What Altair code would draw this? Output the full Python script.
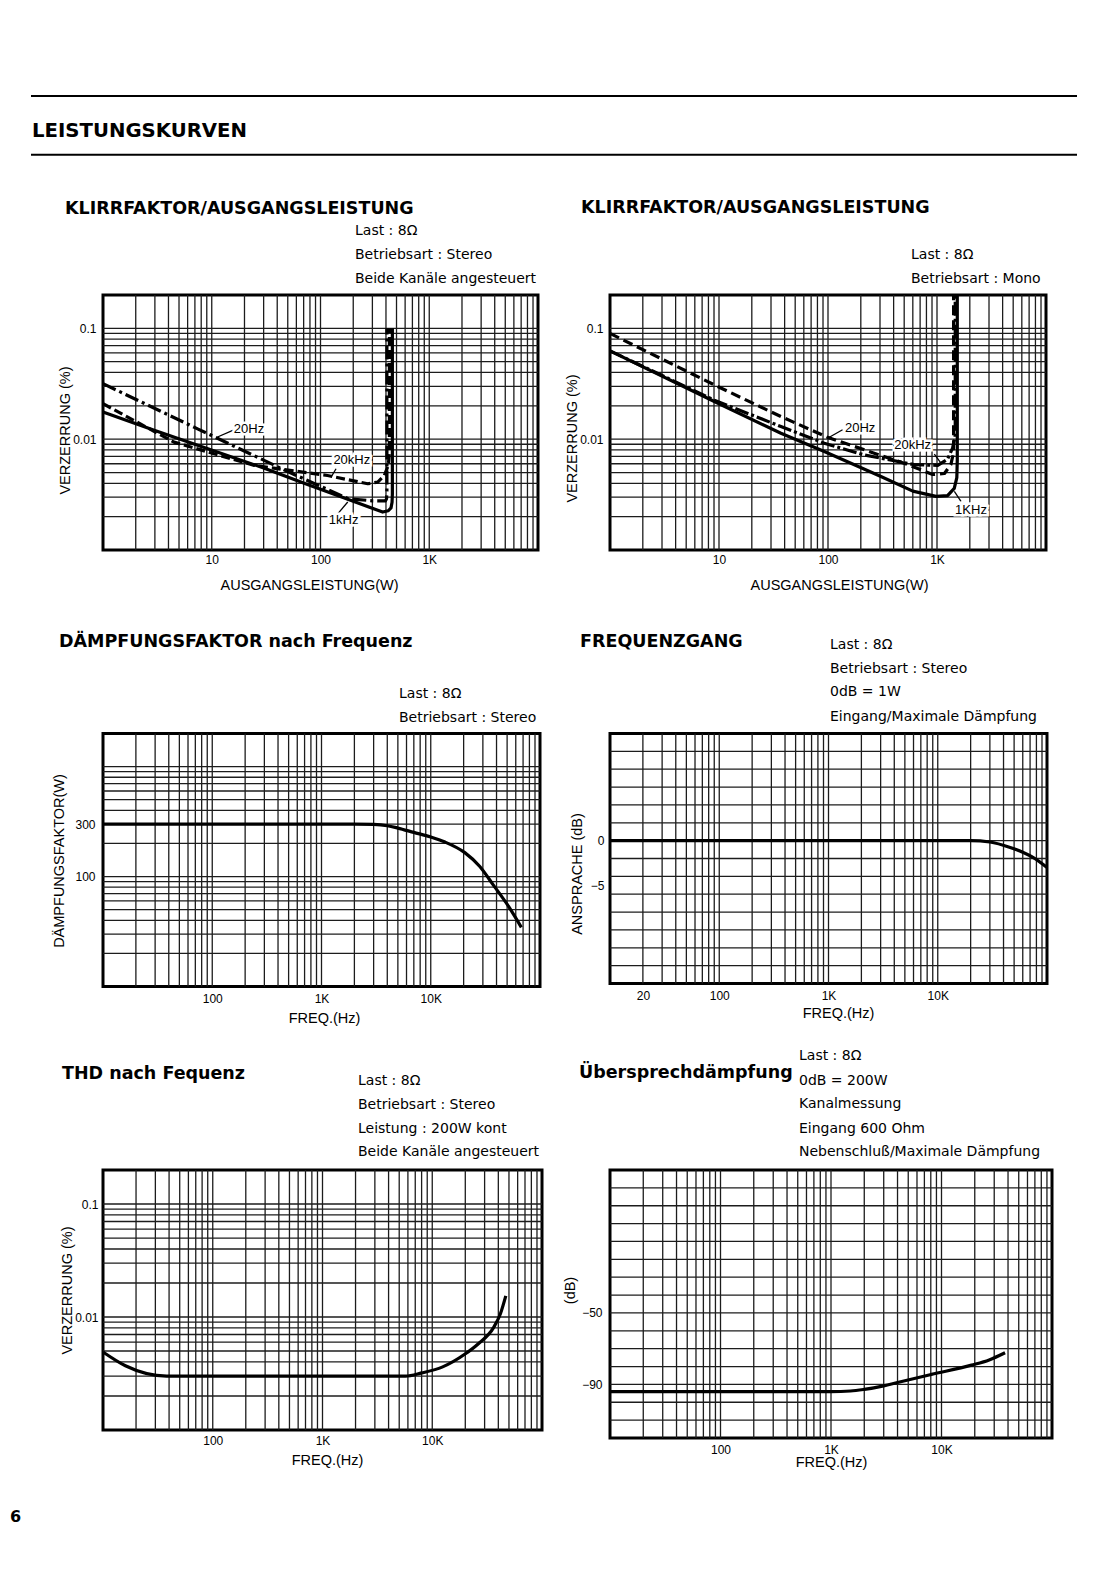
import altair as alt
import pandas as pd

# ---------------- data ----------------
# Panel 1: KLIRRFAKTOR/AUSGANGSLEISTUNG (Stereo) -- x: output power (W), y: distortion (%)
P1_1K_W = [1, 3, 9.2, 30, 76, 200, 373, 420, 445, 455, 458, 458]
P1_1K_D = [0.0176, 0.0120, 0.0082, 0.0055, 0.0039, 0.00275, 0.0022, 0.00226, 0.0024, 0.0027, 0.0032, 0.1]
P1_20_W = [1, 7.4, 50, 180, 300, 395, 405, 408, 408]
P1_20_D = [0.0317, 0.0124, 0.0051, 0.0029, 0.00278, 0.00277, 0.0029, 0.0034, 0.1]
P1_20K_W = [1, 4.5, 24.6, 116, 272, 336, 386, 420, 430, 430]
P1_20K_D = [0.0209, 0.0094, 0.0058, 0.0047, 0.00396, 0.0041, 0.0047, 0.0058, 0.0075, 0.1]
P1_LBL = ["20Hz", "20kHz", "1kHz"]
P1_LBL_W = [22, 194, 163]
P1_LBL_D = [0.0124, 0.00655, 0.00185]
P1_LEAD_W1 = [15.6, 139, 144]
P1_LEAD_D1 = [0.0120, 0.00541, 0.00212]
P1_LEAD_W2 = [11.3, 125, 178]
P1_LEAD_D2 = [0.01046, 0.00455, 0.00271]

# Panel 2: KLIRRFAKTOR/AUSGANGSLEISTUNG (Mono)
P2_1K_W = [1, 9.06, 37, 92.5, 306, 600, 979, 1250, 1440, 1520, 1535, 1535]
P2_1K_D = [0.0626, 0.0219, 0.0113, 0.00775, 0.0046, 0.0034, 0.00305, 0.0031, 0.0036, 0.0045, 0.0065, 0.2]
P2_20_W = [1, 9.06, 37, 99, 538, 914, 1170, 1340, 1415, 1420, 1420]
P2_20_D = [0.090, 0.0309, 0.016, 0.0104, 0.0059, 0.0048, 0.0049, 0.0059, 0.0075, 0.0095, 0.2]
P2_20K_W = [1, 9.06, 37, 92.5, 215, 617, 1015, 1250, 1390, 1465, 1470, 1470]
P2_20K_D = [0.0626, 0.0225, 0.013, 0.0092, 0.0072, 0.0059, 0.0058, 0.0066, 0.0083, 0.0105, 0.013, 0.2]
P2_LBL = ["20Hz", "20kHz", "1KHz"]
P2_LBL_W = [197, 598, 2051]
P2_LBL_D = [0.01257, 0.00877, 0.00231]
P2_LEAD_W1 = [136, 945, 1660]
P2_LEAD_D1 = [0.01215, 0.00733, 0.00275]
P2_LEAD_W2 = [99, 1088, 1442]
P2_LEAD_D2 = [0.0102, 0.00608, 0.00338]

# Panel 3: DÄMPFUNGSFAKTOR nach Frequenz
P3_F = [10, 100, 1000, 2000, 3000, 4000, 5000, 7000, 10000, 13500, 20500, 28000, 37300, 51200, 67500]
P3_DF = [300, 300, 300, 300, 298, 290, 276, 252, 229, 206, 165, 124, 84, 54, 34.5]

# Panel 4: FREQUENZGANG
P4_F = [10, 100, 1000, 10000, 20000, 30000, 46000, 60000, 75000, 100000]
P4_DB = [0, 0, 0, 0, 0, -0.15, -0.76, -1.3, -1.9, -3.0]

# Panel 5: THD nach Fequenz
P5_F = [10, 16, 38, 100, 1000, 5700, 8000, 12300, 19900, 26300, 36300, 41800, 46800]
P5_D = [0.0049, 0.0037, 0.0030, 0.0030, 0.0030, 0.0030, 0.0032, 0.0036, 0.0047, 0.0058, 0.0081, 0.0107, 0.0154]

# Panel 6: Übersprechdämpfung
P6_F = [10, 100, 1000, 1500, 2000, 3000, 4000, 8100, 18700, 27000, 37600]
P6_DB = [-94, -94, -94, -93.7, -92.8, -90.8, -88.9, -84.4, -79.2, -76.3, -72.3]

# ---------------- style ----------------
BLACK = "#000000"
GRID_C = "#1c1c1c"
GRID_W = 1.3
CURVE_W = 3.2
AXIS_FONT = "Liberation Sans"
INFO_FONT = "DejaVu Sans"
TITLE_SIZE = 17.5
INFO_SIZE = 14
LABEL_SIZE = 12
ATITLE_SIZE = 14.5
K_EXPR = "datum.value >= 1000 ? format(datum.value / 1000, 'd') + 'K' : format(datum.value, 'd')"


def decade_grid(e_lo, e_hi):
    vals = []
    for e in range(e_lo, e_hi):
        for m in range(1, 10):
            vals.append(round(m * 10.0 ** e, 12))
    return vals


def x_axis(values, title, tx, ty, pad):
    return alt.Axis(values=values, labelExpr=K_EXPR, title=title, grid=False, ticks=False,
                    domain=False, labelPadding=pad, labelFont=AXIS_FONT,
                    labelFontSize=LABEL_SIZE, labelColor=BLACK, titleFont=AXIS_FONT,
                    titleFontSize=ATITLE_SIZE, titleFontWeight="normal", titleColor=BLACK,
                    titleX=tx, titleY=ty, titleAlign="center", titleBaseline="middle",
                    labelOverlap=False, labelFlush=False)


def y_axis(values, title, tx, ty, pad):
    return alt.Axis(values=values, format="~r", title=title, grid=False, ticks=False,
                    domain=False, labelPadding=pad, labelFont=AXIS_FONT,
                    labelFontSize=LABEL_SIZE, labelColor=BLACK, titleFont=AXIS_FONT,
                    titleFontSize=ATITLE_SIZE, titleFontWeight="normal", titleColor=BLACK,
                    titleX=tx, titleY=ty, titleAngle=270, titleAlign="center",
                    titleBaseline="middle", labelOverlap=False, labelFlush=False)


class Frame:
    """Scales and axes shared by all layers of one panel."""

    def __init__(self, xsc, ysc, xax, yax):
        self.xsc, self.ysc, self.xax, self.yax = xsc, ysc, xax, yax

    def X(self, f):
        return alt.X(f, scale=self.xsc, axis=self.xax)

    def Y(self, f):
        return alt.Y(f, scale=self.ysc, axis=self.yax)


def curve(fr, xs, ys, dash=None, interp="linear"):
    df = pd.DataFrame({"x": xs, "y": ys, "i": list(range(len(xs)))})
    kw = dict(color=BLACK, strokeWidth=CURVE_W, interpolate=interp, strokeJoin="round")
    if dash:
        kw["strokeDash"] = dash
    return alt.Chart(df).mark_line(**kw).encode(
        x=fr.X("x:Q"), y=fr.Y("y:Q"), order=alt.Order("i:Q"))


def curve_labels(fr, lbl, lx, ly, w1, d1, w2, d2):
    ldf = pd.DataFrame({"t": lbl, "x": lx, "y": ly})
    lead = pd.DataFrame({"x1": w1, "y1": d1, "x2": w2, "y2": d2})
    rules = alt.Chart(lead).mark_rule(color=BLACK, strokeWidth=1.3).encode(
        x=fr.X("x1:Q"), y=fr.Y("y1:Q"), x2="x2:Q", y2="y2:Q")
    halo = alt.Chart(ldf).mark_text(font=AXIS_FONT, fontSize=13, align="center",
                                    baseline="middle", stroke="white", strokeWidth=5,
                                    color="white").encode(
        x=fr.X("x:Q"), y=fr.Y("y:Q"), text="t:N")
    txt = alt.Chart(ldf).mark_text(font=AXIS_FONT, fontSize=13, align="center",
                                   baseline="middle", color=BLACK).encode(
        x=fr.X("x:Q"), y=fr.Y("y:Q"), text="t:N")
    return [rules, halo, txt]


def text(s, x, y, size=INFO_SIZE, font=INFO_FONT, weight="normal"):
    return alt.Chart(pd.DataFrame({"t": [s]})).mark_text(
        align="left", baseline="alphabetic", font=font, fontSize=size, fontWeight=weight,
        color=BLACK).encode(x=alt.value(x), y=alt.value(y), text="t:N")


def title(s, x, y):
    return text(s, x, y, size=TITLE_SIZE, weight="bold")


def info(lines, x, baselines):
    return [text(s, x, b) for s, b in zip(lines, baselines)]


def hline(x1, x2, y, w=2):
    return alt.Chart(pd.DataFrame({"k": [0]})).mark_rule(color=BLACK, strokeWidth=w).encode(
        x=alt.value(x1), x2=alt.value(x2), y=alt.value(y))


def panel(w, h, fr, xgrid, ygrid, layers):
    gx = alt.Chart(pd.DataFrame({"gx": xgrid})).mark_rule(
        color=GRID_C, strokeWidth=GRID_W).encode(x=fr.X("gx:Q"))
    gy = alt.Chart(pd.DataFrame({"gy": ygrid})).mark_rule(
        color=GRID_C, strokeWidth=GRID_W).encode(y=fr.Y("gy:Q"))
    return alt.layer(gx, gy, *layers).properties(width=w, height=h)


# ---------------- scales & grids ----------------
XS_W = alt.Scale(type="log", domain=[1, 10000], nice=False)
XS_F = alt.Scale(type="log", domain=[10, 100000], nice=False)
YS_THD = alt.Scale(type="log", domain=[0.001, 0.2], nice=False)
YS_DF = alt.Scale(type="log", domain=[10, 2000], nice=False)
YS_FR = alt.Scale(type="linear", domain=[-16, 12], nice=False, zero=False)
YS_CT = alt.Scale(type="linear", domain=[-120, 30], nice=False, zero=False)

GRID_W_X = decade_grid(0, 4)[1:]
GRID_F_X = decade_grid(1, 5)[1:]
GRID_THD_Y = decade_grid(-3, -1)[1:] + [0.1]
GRID_DF_Y = decade_grid(1, 3)[1:] + [1000]
GRID_FR_Y = list(range(-14, 11, 2))
GRID_CT_Y = list(range(-110, 21, 10))

# ---------------- panels ----------------
f1 = Frame(XS_W, YS_THD,
           x_axis([10, 100, 1000], "AUSGANGSLEISTUNG(W)", 206, 35, 4),
           y_axis([0.01, 0.1], "VERZERRUNG (%)", -38, 135, 7))
p1 = panel(435, 255, f1, GRID_W_X, GRID_THD_Y, [
    curve(f1, P1_20_W, P1_20_D, dash=[14, 4, 3, 4]),
    curve(f1, P1_20K_W, P1_20K_D, dash=[9, 4]),
    curve(f1, P1_1K_W, P1_1K_D),
    *curve_labels(f1, P1_LBL, P1_LBL_W, P1_LBL_D, P1_LEAD_W1, P1_LEAD_D1,
                  P1_LEAD_W2, P1_LEAD_D2),
    hline(-72, 974, -199),
    text("LEISTUNGSKURVEN", -71, -158, size=19.7, weight="bold"),
    hline(-72, 974, -140.3),
    title("KLIRRFAKTOR/AUSGANGSLEISTUNG", -38, -81.3),
    *info(["Last : 8Ω", "Betriebsart : Stereo", "Beide Kanäle angesteuert"],
          252, [-59.7, -36.3, -12.3]),
])

f2 = Frame(XS_W, YS_THD,
           x_axis([10, 100, 1000], "AUSGANGSLEISTUNG(W)", 229, 35, 4),
           y_axis([0.01, 0.1], "VERZERRUNG (%)", -38, 143, 7))
p2 = panel(436, 255, f2, GRID_W_X, GRID_THD_Y, [
    curve(f2, P2_20_W, P2_20_D, dash=[10, 5]),
    curve(f2, P2_20K_W, P2_20K_D, dash=[14, 3, 3, 3]),
    curve(f2, P2_1K_W, P2_1K_D),
    *curve_labels(f2, P2_LBL, P2_LBL_W, P2_LBL_D, P2_LEAD_W1, P2_LEAD_D1,
                  P2_LEAD_W2, P2_LEAD_D2),
    title("KLIRRFAKTOR/AUSGANGSLEISTUNG", -29, -82.3),
    *info(["Last : 8Ω", "Betriebsart : Mono"], 301, [-36.3, -12.3]),
])

f3 = Frame(XS_F, YS_DF,
           x_axis([100, 1000, 10000], "FREQ.(Hz)", 221, 32, 7),
           y_axis([100, 300], "DÄMPFUNGSFAKTOR(W)", -44, 127, 8))
p3 = panel(437, 253, f3, GRID_F_X, GRID_DF_Y, [
    curve(f3, P3_F, P3_DF, interp="monotone"),
    title("DÄMPFUNGSFAKTOR nach Frequenz", -44, -86.5),
    *info(["Last : 8Ω", "Betriebsart : Stereo"], 296, [-35.5, -11.5]),
])

f4 = Frame(XS_F, YS_FR,
           x_axis([20, 100, 1000, 10000], "FREQ.(Hz)", 228, 30, 7),
           y_axis([0, -5], "ANSPRACHE (dB)", -33, 140, 6))
p4 = panel(437, 250, f4, GRID_F_X, GRID_FR_Y, [
    curve(f4, P4_F, P4_DB, interp="monotone"),
    title("FREQUENZGANG", -30, -86.5),
    *info(["Last : 8Ω", "Betriebsart : Stereo", "0dB = 1W", "Eingang/Maximale Dämpfung"],
          220, [-84.2, -60.8, -37.5, -12.2]),
])

f5 = Frame(XS_F, YS_THD,
           x_axis([100, 1000, 10000], "FREQ.(Hz)", 224, 30, 5),
           y_axis([0.01, 0.1], "VERZERRUNG (%)", -36, 120, 5))
p5 = panel(439, 260, f5, GRID_F_X, GRID_THD_Y, [
    curve(f5, P5_F, P5_D, interp="monotone"),
    title("THD nach Fequenz", -41, -90.7),
    *info(["Last : 8Ω", "Betriebsart : Stereo", "Leistung : 200W kont",
           "Beide Kanäle angesteuert"], 255, [-84.7, -60.7, -37.3, -14]),
    text("6", -93, 352, size=16, weight="bold"),
])

f6 = Frame(XS_F, YS_CT,
           x_axis([100, 1000, 10000], "FREQ.(Hz)", 221, 24, 6),
           y_axis([-50, -90], "(dB)", -40, 120, 8))
p6 = panel(442, 268, f6, GRID_F_X, GRID_CT_Y, [
    curve(f6, P6_F, P6_DB, interp="monotone"),
    title("Übersprechdämpfung", -31, -92),
    *info(["Last : 8Ω", "0dB = 200W", "Kanalmessung", "Eingang 600 Ohm",
           "Nebenschluß/Maximale Dämpfung"], 189, [-109.7, -85.3, -62, -37.3, -14]),
])

chart = alt.concat(
    p1, p2, p3, p4, p5, p6,
    columns=2,
    spacing={"row": 183.5, "column": 68},
    bounds="flush",
    align="each",
).properties(
    padding={"left": 0, "top": 85, "right": 4, "bottom": 4},
    background="white",
).configure_view(stroke=BLACK, strokeWidth=3)

chart.save("out.html", embed_options={"renderer": "svg", "actions": False})
